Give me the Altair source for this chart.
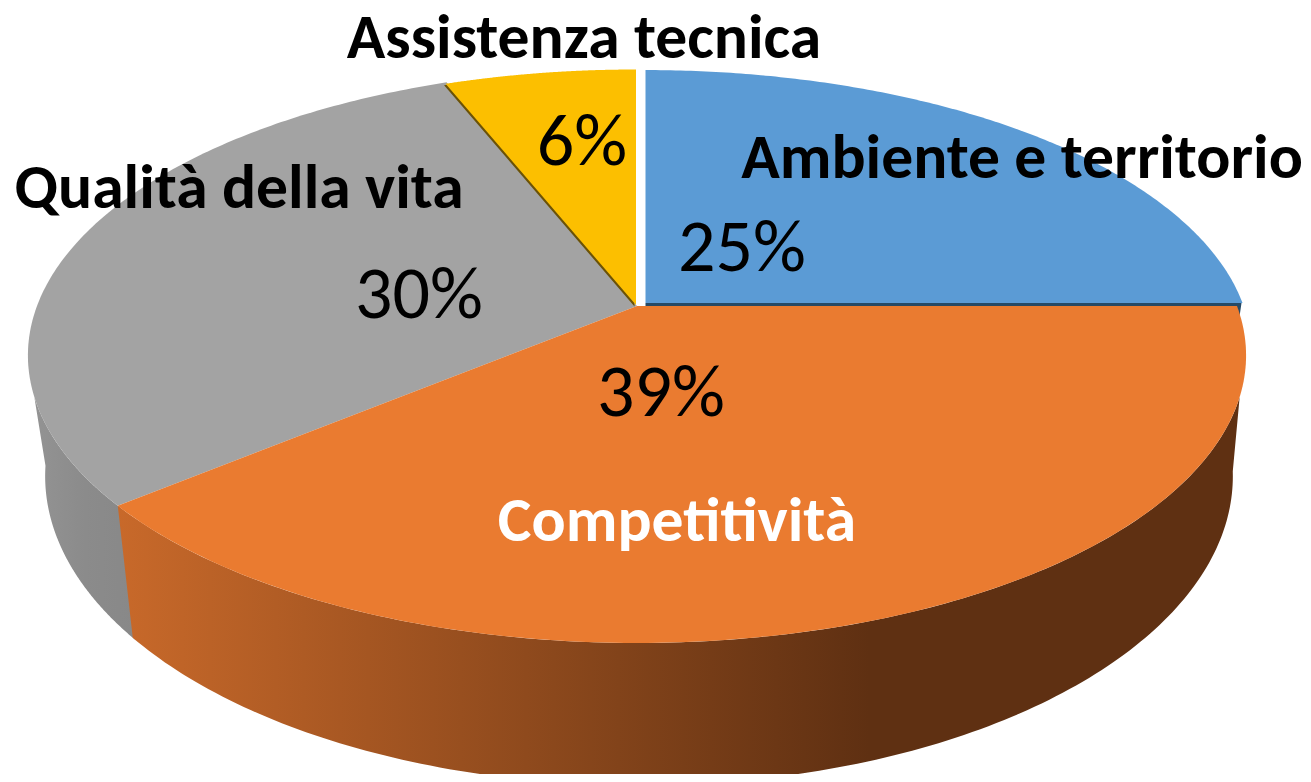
import numpy as np
import altair as alt

categories = ["Ambiente e territorio", "Competitività", "Qualità della vita", "Assistenza tecnica"]
shares = [25, 39, 30, 6]
percent_labels = ["25%", "39%", "30%", "6%"]

# cumulative slice angles, clockwise from 12 o'clock
edges = np.concatenate([[0.0], np.cumsum(shares)]) * 3.6


def rim(t0, t1, cx, cy, a, b, k=0.172, n=160):
    """Perspective projection of a circular rim arc (degrees) on the page."""
    th = np.radians(np.linspace(t0, t1, n))
    X, Y = np.sin(th), np.cos(th)
    w = 1 + k * Y
    return np.column_stack([cx + a * X / w, cy - b * Y / w])


def feature(pts):
    p = [[float(x), float(y)] for x, y in pts]
    p.append(p[0])
    return {"type": "Feature", "properties": {}, "geometry": {"type": "Polygon", "coordinates": [p]}}


def sector(t0, t1, cx, cy, a, b):
    return feature(np.vstack([[[cx, cy]], rim(t0, t1, cx, cy, a, b)]))


TOP = dict(cx=637, cy=306, a=600, b=279)
BOT = dict(cx=639, cy=423, a=585, b=300)
BLUE = dict(cx=645.5, cy=303, a=597, b=273)
YEL = dict(cx=636, cy=305, a=600, b=276)
YEL_EDGE = dict(cx=634.5, cy=306.5, a=600, b=276)


def wall(top_a, top_b, bot_a, bot_b):
    return feature(np.vstack([rim(top_a, top_b, **TOP), rim(bot_a, bot_b, **BOT)]))


proj = alt.Projection(type="identity", scale=1, translate=[-8, -8])


def shape(feat, **style):
    return alt.Chart(alt.Data(values=[feat])).mark_geoshape(strokeWidth=0, **style).project(**proj.to_dict())


def grad(stops):
    return alt.Gradient(
        gradient="linear", x1=0, x2=1, y1=0, y2=0,
        stops=[alt.GradientStop(offset=o, color=c) for o, c in stops],
    )


def label(text, x, y, size, color="#000000", weight=400):
    return alt.Chart(alt.Data(values=[{"t": text}])).mark_text(
        font="Carlito, Lato", fontSize=size, fontWeight=weight, color=color, align="center", baseline="alphabetic"
    ).encode(text="t:N", x=alt.value(x - 8), y=alt.value(y - 8))


layers = [
    # side walls
    shape(wall(edges[2] - 0.5, 252, 262, edges[2] - 0.5), fill=grad([(0, "#939393"), (0.5, "#8b8b8b"), (1, "#888888")])),
    shape(wall(108, edges[2], edges[2], 99), fill=grad([(0, "#c8692a"), (0.67, "#5f3012"), (1, "#5f3012")])),
    shape(feature(np.vstack([[[645.5, 303], [1241.5, 303]], [[1239, 320], [1235, 307], [645.5, 307]]])), fill="#264a66"),
    # top faces
    shape(sector(edges[2], edges[3], **TOP), fill="#a3a3a3"),
    shape(sector(edges[3] - 360, 0, **YEL_EDGE), fill="#6b5206"),
    shape(sector(edges[3] - 360, 0, **YEL), fill="#fcbf00"),
    shape(sector(edges[0], edges[1], **BLUE), fill="#5b9bd5"),
    shape(sector(edges[1], edges[2], **TOP), fill="#ea7b30"),
    label(categories[3], 584, 58, 63.6, weight=700),
    label(categories[0], 1022, 178, 63.6, weight=700),
    label(categories[2], 239, 208, 63.6, weight=700),
    label(categories[1], 677, 541, 63.6, color="#ffffff", weight=700),
    label(percent_labels[3], 582, 165, 74),
    label(percent_labels[0], 742, 271, 74),
    label(percent_labels[2], 419, 318, 74),
    label(percent_labels[1], 661, 416, 74),
]

chart = alt.layer(*layers).properties(
    width=1295, height=766, padding=0, autosize="none"
).configure_view(stroke=None)

chart.save("out.html", embed_options={"renderer": "svg", "actions": False})
